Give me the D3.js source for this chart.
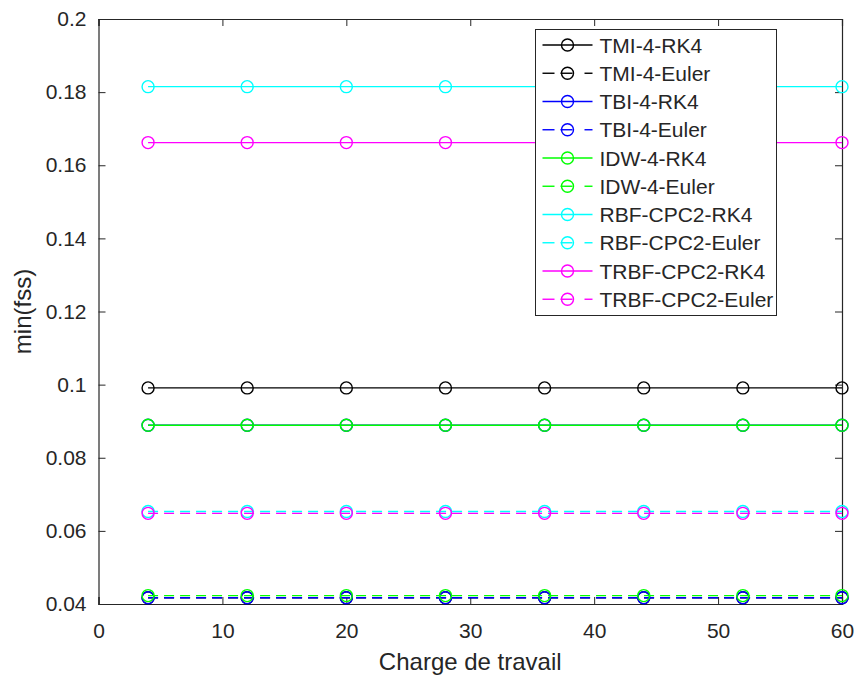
<!DOCTYPE html>
<html>
<head>
<meta charset="utf-8">
<script src="https://cdn.jsdelivr.net/npm/d3@7"></script>
<style>
  body { margin: 0; background: #fff; }
  text { font-family: "Liberation Sans", Arial, sans-serif; fill: #262626; }
</style>
</head>
<body>
<div id="chart-area"></div>
<script>
const MARGIN = { LEFT: 98.5, RIGHT: 15, TOP: 19, BOTTOM: 75 }
const WIDTH = 857 - MARGIN.LEFT - MARGIN.RIGHT
const HEIGHT = 679 - MARGIN.TOP - MARGIN.BOTTOM

// data
const workloads = [4, 12, 20, 28, 36, 44, 52, 60]
const seriesNames = ["TMI-4-RK4", "TMI-4-Euler", "TBI-4-RK4", "TBI-4-Euler", "IDW-4-RK4",
  "IDW-4-Euler", "RBF-CPC2-RK4", "RBF-CPC2-Euler", "TRBF-CPC2-RK4", "TRBF-CPC2-Euler"]
const seriesColors = ["#000000", "#000000", "#0000ff", "#0000ff", "#00ff00",
  "#00ff00", "#00ffff", "#00ffff", "#ff00ff", "#ff00ff"]
const seriesDashed = [false, true, false, true, false, true, false, true, false, true]
const seriesValues = [0.0991, 0.0417, 0.0889, 0.0417, 0.0889, 0.0423, 0.1815, 0.0653, 0.1662, 0.0648]
const xTicks = [0, 10, 20, 30, 40, 50, 60]
const yTicks = [0.04, 0.06, 0.08, 0.1, 0.12, 0.14, 0.16, 0.18, 0.2]

const svg = d3.select("#chart-area").append("svg")
  .attr("width", 857)
  .attr("height", 679)

const g = svg.append("g")
  .attr("transform", `translate(${MARGIN.LEFT}, ${MARGIN.TOP})`)

const xScale = d3.scaleLinear().domain([0, 60]).range([0, WIDTH])
const yScale = d3.scaleLinear().domain([0.04, 0.2]).range([HEIGHT, 0])

const axisColor = "#262626"
const fmt = v => String(+v.toFixed(2))

// axes, ticks pointing inward
const xAxis = g.append("g")
  .attr("transform", `translate(0, ${HEIGHT})`)
  .call(d3.axisBottom(xScale).tickValues(xTicks).tickSize(-7).tickPadding(19).tickFormat(fmt))
const xTop = g.append("g")
  .call(d3.axisTop(xScale).tickValues(xTicks).tickSize(-7).tickFormat(""))
const yAxis = g.append("g")
  .call(d3.axisLeft(yScale).tickValues(yTicks).tickSize(-7).tickPadding(12).tickFormat(fmt))
const yRight = g.append("g")
  .attr("transform", `translate(${WIDTH}, 0)`)
  .call(d3.axisRight(yScale).tickValues(yTicks).tickSize(-7).tickFormat(""))

;[xAxis, xTop, yAxis, yRight].forEach(a => {
  a.select(".domain").attr("stroke", axisColor).attr("stroke-width", 1.2)
  a.selectAll(".tick line").attr("stroke", axisColor)
  a.selectAll(".tick text").attr("font-size", "21px").attr("fill", axisColor)
    .style("font-family", "Liberation Sans, Arial, sans-serif")
})

g.append("text")
  .attr("x", WIDTH / 2)
  .attr("y", HEIGHT + 66)
  .attr("font-size", "24px")
  .attr("text-anchor", "middle")
  .text("Charge de travail")
g.append("text")
  .attr("x", -(HEIGHT / 2))
  .attr("y", -68)
  .attr("font-size", "24px")
  .attr("text-anchor", "middle")
  .attr("transform", "rotate(-90)")
  .text("min(fss)")

// series
seriesNames.forEach((name, i) => {
  const pts = workloads.map(w => ({ x: w, y: seriesValues[i] }))
  g.append("path")
    .datum(pts)
    .attr("fill", "none")
    .attr("stroke", seriesColors[i])
    .attr("stroke-width", 1.4)
    .attr("stroke-dasharray", seriesDashed[i] ? "10,6" : null)
    .attr("d", d3.line().x(d => xScale(d.x)).y(d => yScale(d.y)))
  g.selectAll(null)
    .data(pts)
    .enter().append("circle")
    .attr("cx", d => xScale(d.x))
    .attr("cy", d => yScale(d.y))
    .attr("r", 6)
    .attr("fill", "none")
    .attr("stroke", seriesColors[i])
    .attr("stroke-width", 1.4)
})

// legend
const legend = svg.append("g").attr("transform", "translate(535.5, 29.5)")
legend.append("rect")
  .attr("width", 241)
  .attr("height", 286)
  .attr("fill", "#fff")
  .attr("stroke", axisColor)
  .attr("stroke-width", 1)
seriesNames.forEach((name, i) => {
  const y = 15.5 + i * 28.25
  const row = legend.append("g").attr("transform", `translate(0, ${y})`)
  const segs = seriesDashed[i] ? [[7, 19], [25, 37], [49, 57]] : [[7, 57]]
  segs.forEach(s => {
    row.append("line").attr("x1", s[0]).attr("x2", s[1]).attr("y1", 0).attr("y2", 0)
      .attr("stroke", seriesColors[i]).attr("stroke-width", 1.4)
  })
  row.append("circle").attr("cx", 32).attr("cy", 0).attr("r", 6)
    .attr("fill", "none").attr("stroke", seriesColors[i]).attr("stroke-width", 1.4)
  row.append("text").attr("x", 64).attr("y", 7.5)
    .attr("font-size", "21px").attr("fill", "#000").text(name)
})
</script>
</body>
</html>
